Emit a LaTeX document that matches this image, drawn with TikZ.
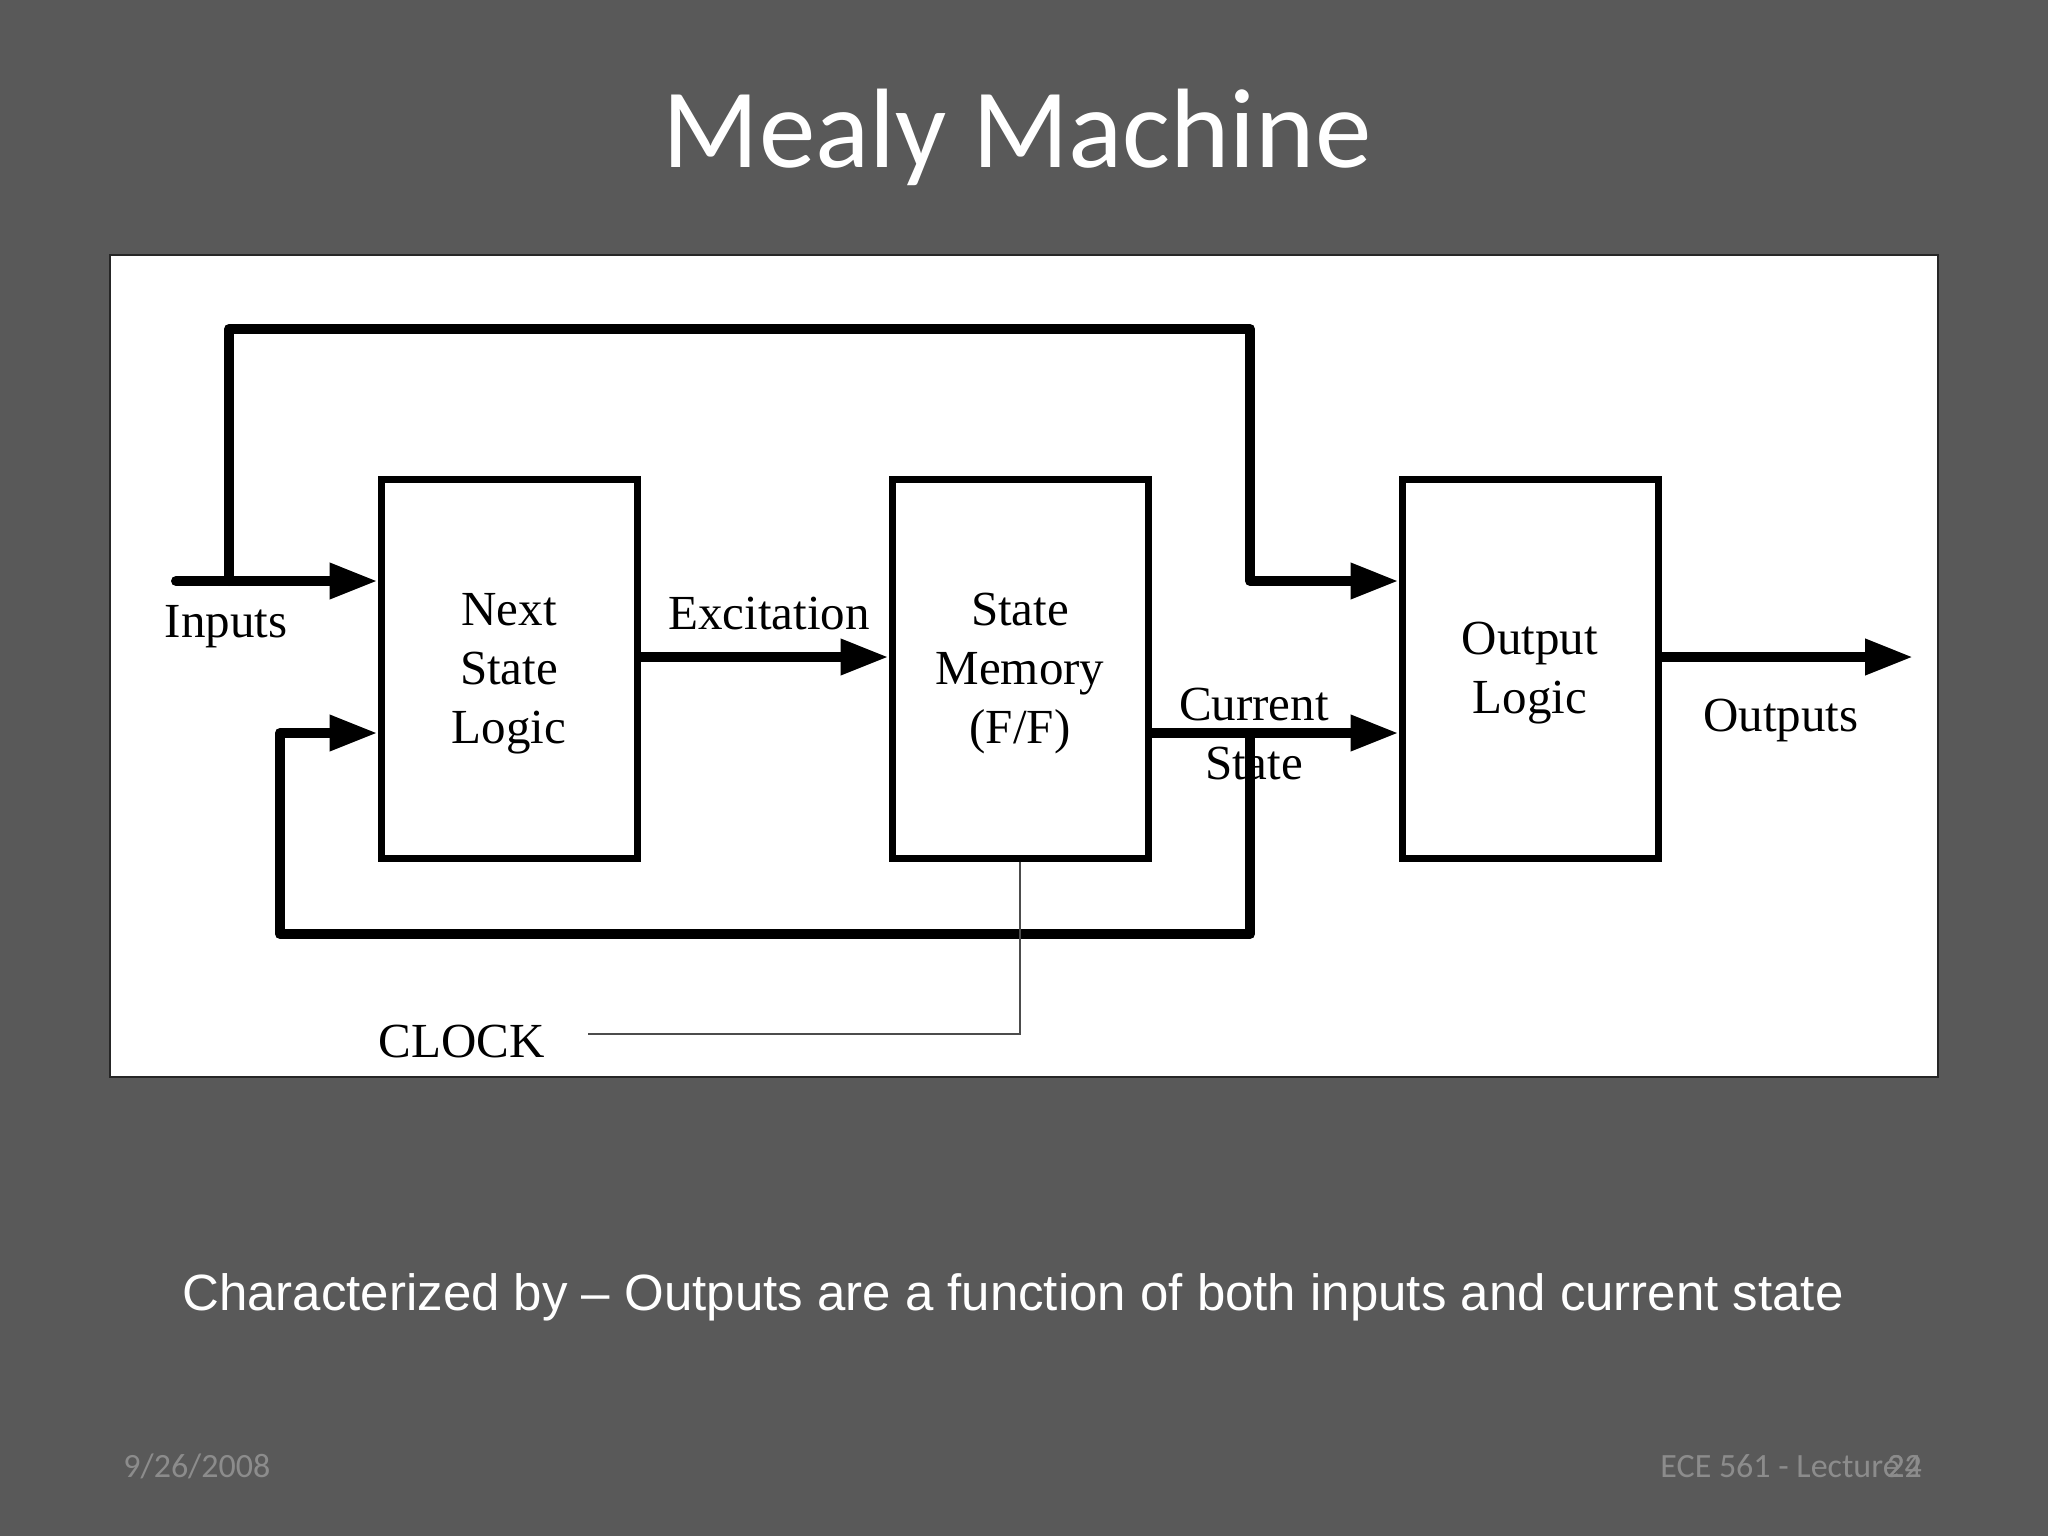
\documentclass[tikz,border=0pt]{standalone}
\usepackage{fontspec}
\setmainfont{Liberation Serif}
\newfontfamily\titlefont{Carlito}
\newfontfamily\arialfont[Ligatures=TeX]{Liberation Sans}
\usetikzlibrary{arrows.meta}
\definecolor{slidebg}{HTML}{595959}
\definecolor{footgray}{HTML}{8C8C8C}
\tikzset{
  blockbox/.style={draw=black, line width=3.5pt, fill=white, minimum width=128pt, minimum height=189.5pt, inner sep=0pt},
  wire/.style={draw=black, line width=5pt, line cap=round, line join=round},
  awire/.style={wire, -{Triangle[length=24pt,width=17pt]}},
  lbl/.style={inner sep=0pt, font=\fontsize{24.5}{29.5}\selectfont, align=center},
  clk/.style={draw=black!70, line width=0.6pt},
  foottxt/.style={anchor=base west, text=footgray, inner sep=0pt, font=\titlefont\fontsize{17}{20}\selectfont}
}
\begin{document}
\begin{tikzpicture}[x=0.5pt,y=-0.5pt]
\useasboundingbox (0,0) rectangle (2048,1536);
\fill[slidebg] (0,0) rectangle (2048,1536);
% title
\node[anchor=base, text=white, inner sep=0pt, font=\titlefont\fontsize{56.5}{60}\selectfont] (title) at (1017,167) {Mealy Machine};
% white frame
\draw[fill=white, draw=black!85, line width=1pt] (110,255) rectangle (1938,1077);
% blocks
\node[blockbox] (nsl) at (509,668.5) {};
\node[blockbox] (sm) at (1020,668.5) {};
\node[blockbox] (ol) at (1530,668.5) {};
\node[lbl] (nslT) at ([yshift=-2.5pt]nsl.center) {Next\\State\\Logic};
\node[lbl] (smT) at ([yshift=-2.5pt]sm.center) {State\\Memory\\(F/F)};
\node[lbl] (olT) at ([yshift=-2.5pt]ol.center) {Output\\Logic};
% helper coordinates
\coordinate (inS) at (176,581);
\coordinate (tap) at (229,581);
\coordinate (t1) at (229,329);
\coordinate (t2) at (1250,329);
\coordinate (t3) at (1250,581);
\coordinate (excy) at (0,657);
\coordinate (csy) at (0,733);
\coordinate (fbA) at (1250,733);
\coordinate (fb1) at (1250,934);
\coordinate (fb2) at (280,934);
\coordinate (fb3) at (280,733);
\coordinate (outE) at (1913,657);
\coordinate (ck1) at (1020,1034);
\coordinate (ck2) at (588,1034);
% connectors
\draw[awire] (inS) -- (inS -| nsl.west);
\draw[awire] (tap) -- (t1) -- (t2) -- (t3) -- (t3 -| ol.west);
\draw[awire] (nsl.east |- excy) -- (sm.west |- excy);
\draw[awire] (sm.east |- csy) -- (ol.west |- csy);
\draw[awire] (fbA) -- (fb1) -- (fb2) -- (fb3) -- (fb3 -| nsl.west);
\draw[awire] (ol.east |- outE) -- (outE);
\draw[clk] (sm.south) -- (ck1) -- (ck2);
% labels
\node[lbl] (inputs) at (226,627) {Inputs};
\node[lbl] (exc) at (769,614) {Excitation};
\node[lbl] (cur) at (1254,705) {Current};
\node[lbl] (st) at (1254,764) {State};
\node[lbl] (outs) at (1781,720) {Outputs};
\node[lbl] (clock) at (462,1042) {CLOCK};
% subtitle
\node[anchor=base, text=white, inner sep=0pt, font=\arialfont\fontsize{25.5}{30}\selectfont] (sub) at (1013,1310) {Characterized by \textendash{} Outputs are a function of both inputs and current state};
% footer
\node[foottxt] (date) at (123,1477) {9/26/2008};
\node[foottxt] (foot) at (1660,1477) {ECE 561 - Lecture};
\node[foottxt] (numA) at (1887,1477) {22};
\node[foottxt] (numB) at (1887,1477) {24};
\end{tikzpicture}
\end{document}
